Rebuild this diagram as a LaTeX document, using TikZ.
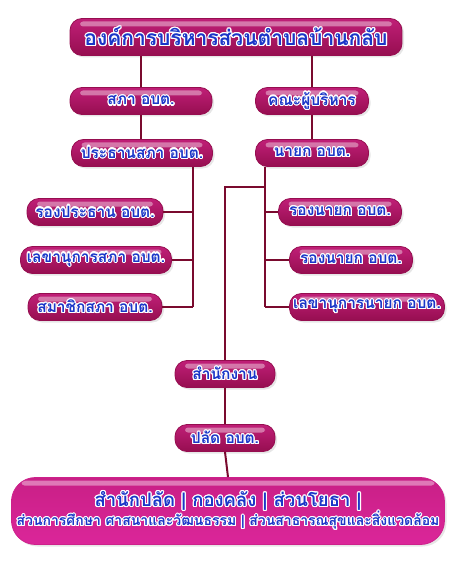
\documentclass[tikz,border=0pt]{standalone}
\usepackage{fontspec}
\newfontfamily\thaifont[Script=Thai]{Loma}
\usepackage[copies]{contour}
\usetikzlibrary{shadows}

\definecolor{boxdark}{HTML}{960E50}
\definecolor{boxpink}{HTML}{DC2A92}
\definecolor{bigpink}{HTML}{F22EB2}
\definecolor{linered}{HTML}{7A0A2E}
\definecolor{lblblue}{HTML}{1A36C8}

% ตัวอักษรขอบขาว
\contourlength{1.1pt}
\newcommand{\lbl}[1]{\contour{white}{#1}}

\tikzset{
  pill/.style={rounded corners=12pt, draw=boxdark, line width=0.8pt,
    top color=boxpink!60!boxdark, middle color=boxpink, bottom color=boxdark,
    text=lblblue, inner sep=0pt,
    drop shadow={opacity=0.2, shadow xshift=2pt, shadow yshift=-2pt},
    path picture={\fill[white, opacity=0.4, rounded corners=3pt]
      ([xshift=10pt, yshift=-3pt]path picture bounding box.north west) rectangle
      ([xshift=-10pt, yshift=-8pt]path picture bounding box.north east);}},
  small/.style={pill, minimum height=27pt, font=\thaifont\bfseries\fontsize{15.5}{17}\selectfont},
  link/.style={linered, line width=2pt}
}

\begin{document}
\begin{tikzpicture}[x=1pt, y=-1pt]
  \useasboundingbox (0,0) rectangle (450,564);

  % หัว
  \node[pill, minimum width=332pt, minimum height=37pt,
    font=\thaifont\bfseries\fontsize{21}{23}\selectfont] (org) at (236,37)
    {\lbl{องค์การบริหารส่วนตำบลบ้านกลับ}};

  % สภา / ผู้บริหาร
  \node[small, minimum width=142pt] (sapha) at (141,101) {\lbl{สภา อบต.}};
  \node[small, minimum width=113pt] (khana) at (312,101) {\lbl{คณะผู้บริหาร}};
  \node[small, minimum width=141pt] (prathan) at (142,153) {\lbl{ประธานสภา อบต.}};
  \node[small, minimum width=113pt] (nayok) at (312,153) {\lbl{นายก อบต.}};

  % ฝั่งซ้าย
  \node[small, minimum width=136pt] (rongprathan) at (95,212) {\lbl{รองประธาน อบต.}};
  \node[small, minimum width=151pt] (lekhasapha) at (96,260) {\lbl{เลขานุการสภา อบต.}};
  \node[small, minimum width=134pt] (samachik) at (95,307) {\lbl{สมาชิกสภา อบต.}};

  % ฝั่งขวา
  \node[small, minimum width=123pt] (rongnayok1) at (340,212) {\lbl{รองนายก อบต.}};
  \node[small, minimum width=123pt] (rongnayok2) at (351,260) {\lbl{รองนายก อบต.}};
  \node[small, minimum width=155pt] (lekhanayok) at (367,307) {\lbl{เลขานุการนายก อบต.}};

  % สำนักงาน
  \node[small, minimum width=100pt] (office) at (225,374) {\lbl{สำนักงาน}};
  \node[small, minimum width=100pt] (palat) at (225,438) {\lbl{ปลัด อบต.}};

  \node[pill, rounded corners=24pt, minimum width=433pt, minimum height=67pt,
    draw=bigpink!60!boxdark, middle color=bigpink, top color=bigpink!55!boxdark,
    bottom color=bigpink!75!boxdark, align=center, font=\thaifont\bfseries] (units) at (228,511)
    {{\fontsize{18.5}{20}\selectfont\lbl{สำนักปลัด | กองคลัง | ส่วนโยธา |}}\\[-1pt]
     {\fontsize{14}{16}\selectfont\lbl{ส่วนการศึกษา ศาสนาและวัฒนธรรม | ส่วนสาธารณสุขและสิ่งแวดล้อม}}};

  \coordinate (lspine) at (193,0);
  \coordinate (rspine) at (265,0);
  \coordinate (joint) at (225,187);

  % เส้นเชื่อม
  \draw[link] (sapha.north) -- (sapha.north |- org.south);
  \draw[link] (khana.north) -- (khana.north |- org.south);
  \draw[link] (sapha.south) -- (sapha.south |- prathan.north);
  \draw[link] (khana.south) -- (khana.south |- nayok.north);

  \draw[link] (prathan.south -| lspine) -- (samachik.east -| lspine);
  \foreach \n in {rongprathan, lekhasapha, samachik}
    \draw[link] (\n.east) -- (\n.east -| lspine);

  \draw[link] (nayok.south -| rspine) -- (lekhanayok.west -| rspine);
  \foreach \n in {rongnayok1, rongnayok2, lekhanayok}
    \draw[link] (\n.west) -- (\n.west -| rspine);

  \draw[link] (joint -| rspine) -- (joint) -- (office.north);
  \draw[link] (office.south) -- (palat.north);
  \draw[link] (palat.south) -- (units.north);
\end{tikzpicture}
\end{document}
